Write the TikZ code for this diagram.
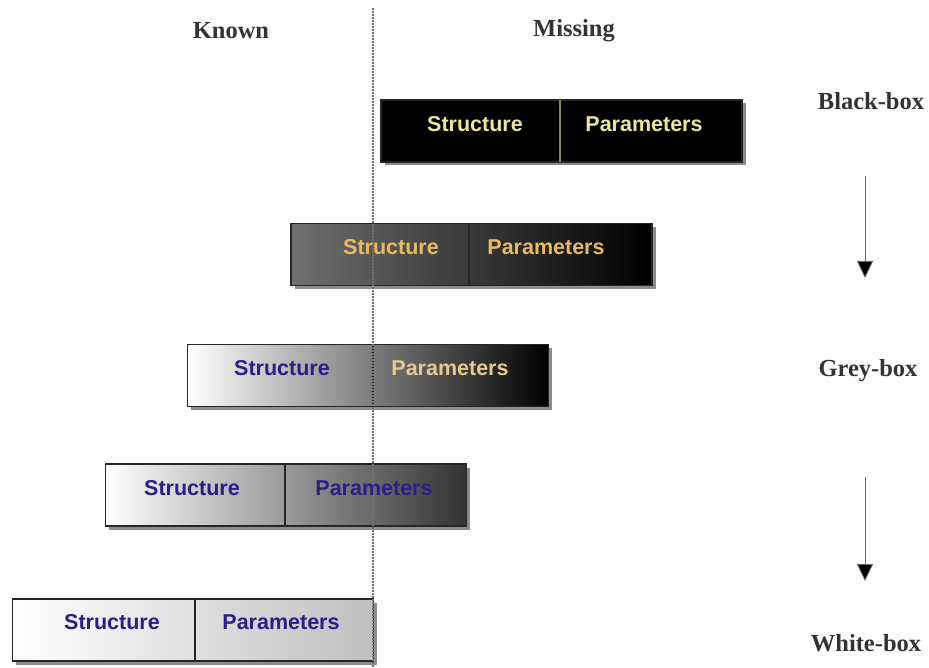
\documentclass[tikz,border=0pt]{standalone}
\usepackage{fontspec}
\setmainfont{Liberation Serif}
\newfontfamily\boxfont{Liberation Sans}
\usetikzlibrary{arrows.meta,shadows}
\definecolor{ylw}{RGB}{232,232,150}
\definecolor{orng}{RGB}{232,185,95}
\definecolor{porng}{RGB}{230,200,140}
\definecolor{navy}{RGB}{40,30,140}
\definecolor{gmid}{RGB}{112,112,112}
\tikzset{
  mbox/.style={draw=black!85, line width=1.5pt, minimum width=361pt, minimum height=62pt, inner sep=0pt,
    drop shadow={shadow xshift=3.5pt, shadow yshift=-3.5pt, fill=black!45, opacity=1}},
  btxt/.style={font=\boxfont\bfseries\fontsize{21.5}{24}\selectfont, inner sep=0pt},
  lbl/.style={font=\bfseries\fontsize{24.5}{28}\selectfont, text=black!80, inner sep=0pt},
  divider/.style={draw=black!85, line width=1.2pt},
  flow/.style={draw=black!60, line width=0.8pt, -{Triangle[width=16pt,length=17pt,fill=black]}}
}
\begin{document}
\begin{tikzpicture}[x=1pt,y=-1pt]
\useasboundingbox[fill=white] (0,0) rectangle (929,668);
% boxes
\node[mbox, fill=black] (b1) at (561.5,131) {};
\node[mbox, left color=gmid, right color=black] (b2) at (471.5,254.5) {};
\node[mbox, left color=white, middle color=black!40, right color=black] (b3) at (368,375.5) {};
\node[mbox, left color=white, right color=black!80] (b4) at (286,495) {};
\node[mbox, left color=white, right color=black!25] (b5) at (193,630) {};
% dividers
\draw[divider, draw=ylw!60!black] (560,100) -- (560,162);
\draw[divider] (469,224) -- (469,285);
\draw[divider] (373,345) -- (373,406);
\draw[divider] (285,465) -- (285,525);
\draw[divider] (195,600) -- (195,660);
% known/missing line
\draw[black!55, line width=1.3pt, dash pattern=on 2pt off 1pt] (373,8) -- (373,668);
% texts
\node[btxt, text=ylw] (s1) at (475,124) {Structure};
\node[btxt, text=ylw] (p1) at (644,124) {Parameters};
\node[btxt, text=orng] (s2) at (391,247) {Structure};
\node[btxt, text=orng] (p2) at (546,247) {Parameters};
\node[btxt, text=navy] (s3) at (282,368) {Structure};
\node[btxt, text=porng] (p3) at (450,368) {Parameters};
\node[btxt, text=navy] (s4) at (192,488) {Structure};
\node[btxt, text=navy] (p4) at (374,488) {Parameters};
\node[btxt, text=navy] (s5) at (112,622) {Structure};
\node[btxt, text=navy] (p5) at (281,622) {Parameters};
% labels
\node[lbl] (known) at (231,31) {Known};
\node[lbl] (missing) at (574,31) {Missing};
\node[lbl] (black) at (871,101) {Black-box};
\node[lbl] (grey) at (868,371) {Grey-box};
\node[lbl] (white) at (866,643) {White-box};
% arrows
\coordinate (a1s) at (865,176);
\coordinate (a1e) at (865,278);
\coordinate (a2s) at (865,477);
\coordinate (a2e) at (865,581);
\draw[flow] (a1s) -- (a1e);
\draw[flow] (a2s) -- (a2e);
\end{tikzpicture}
\end{document}
